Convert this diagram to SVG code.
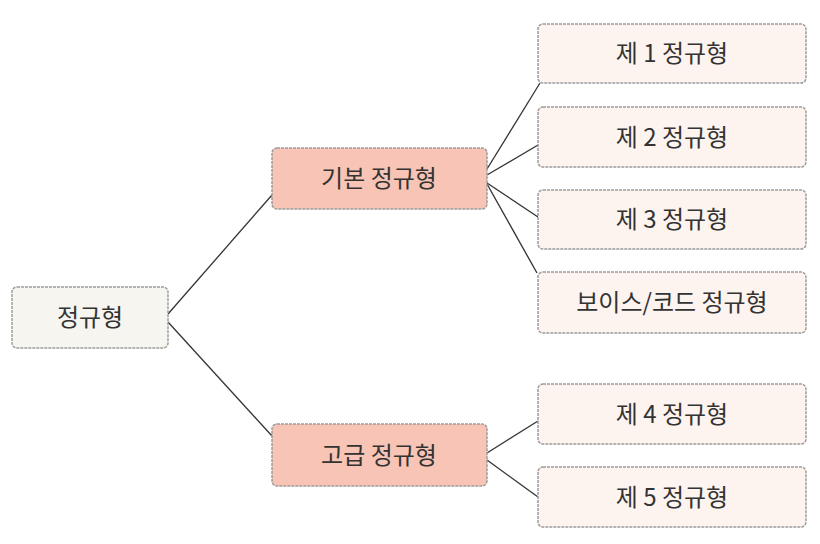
<svg xmlns="http://www.w3.org/2000/svg" width="820" height="544" viewBox="0 0 820 544">
<style>
  .box{stroke:#9c9c9c;stroke-width:1.5;stroke-dasharray:3 1}
  .root{fill:#f6f5ef}
  .mid{fill:#f8c4b5}
  .leaf{fill:#fdf4f0}
  .t{font-family:"Noto Sans CJK KR","Noto Sans",sans-serif;font-size:24px;fill:#333;text-anchor:middle}
  .c{stroke:#333;stroke-width:1.3;fill:none}
</style>
<rect width="820" height="544" fill="#ffffff"/>
<g id="connectors">
  <line class="c" x1="168" y1="314" x2="272" y2="195"/>
  <line class="c" x1="168" y1="322" x2="272" y2="436"/>
  <line class="c" x1="487" y1="169" x2="540" y2="83"/>
  <line class="c" x1="487" y1="175" x2="538" y2="145"/>
  <line class="c" x1="487" y1="183" x2="538" y2="217"/>
  <line class="c" x1="487" y1="184" x2="537" y2="273"/>
  <line class="c" x1="487" y1="453" x2="538" y2="421"/>
  <line class="c" x1="487" y1="460" x2="538" y2="497"/>
</g>
<g id="root">
  <rect class="box root" x="12" y="287" width="156" height="61" rx="5"/>
  <text class="t" x="90" y="326">정규형</text>
</g>
<g id="basic">
  <rect class="box mid" x="272" y="148" width="215" height="61" rx="5"/>
  <text class="t" x="379" y="187">기본 정규형</text>
</g>
<g id="advanced">
  <rect class="box mid" x="272" y="424" width="215" height="62" rx="5"/>
  <text class="t" x="379" y="464">고급 정규형</text>
</g>
<g id="nf1">
  <rect class="box leaf" x="538" y="24" width="268" height="59" rx="5"/>
  <text class="t" x="672" y="62">제 1 정규형</text>
</g>
<g id="nf2">
  <rect class="box leaf" x="538" y="107" width="268" height="60" rx="5"/>
  <text class="t" x="672" y="146">제 2 정규형</text>
</g>
<g id="nf3">
  <rect class="box leaf" x="538" y="190" width="268" height="59" rx="5"/>
  <text class="t" x="672" y="228">제 3 정규형</text>
</g>
<g id="bcnf">
  <rect class="box leaf" x="538" y="272" width="268" height="61" rx="5"/>
  <text class="t" x="672" y="311">보이스/코드 정규형</text>
</g>
<g id="nf4">
  <rect class="box leaf" x="538" y="384" width="268" height="60" rx="5"/>
  <text class="t" x="672" y="423">제 4 정규형</text>
</g>
<g id="nf5">
  <rect class="box leaf" x="538" y="467" width="268" height="60" rx="5"/>
  <text class="t" x="672" y="506">제 5 정규형</text>
</g>
</svg>
